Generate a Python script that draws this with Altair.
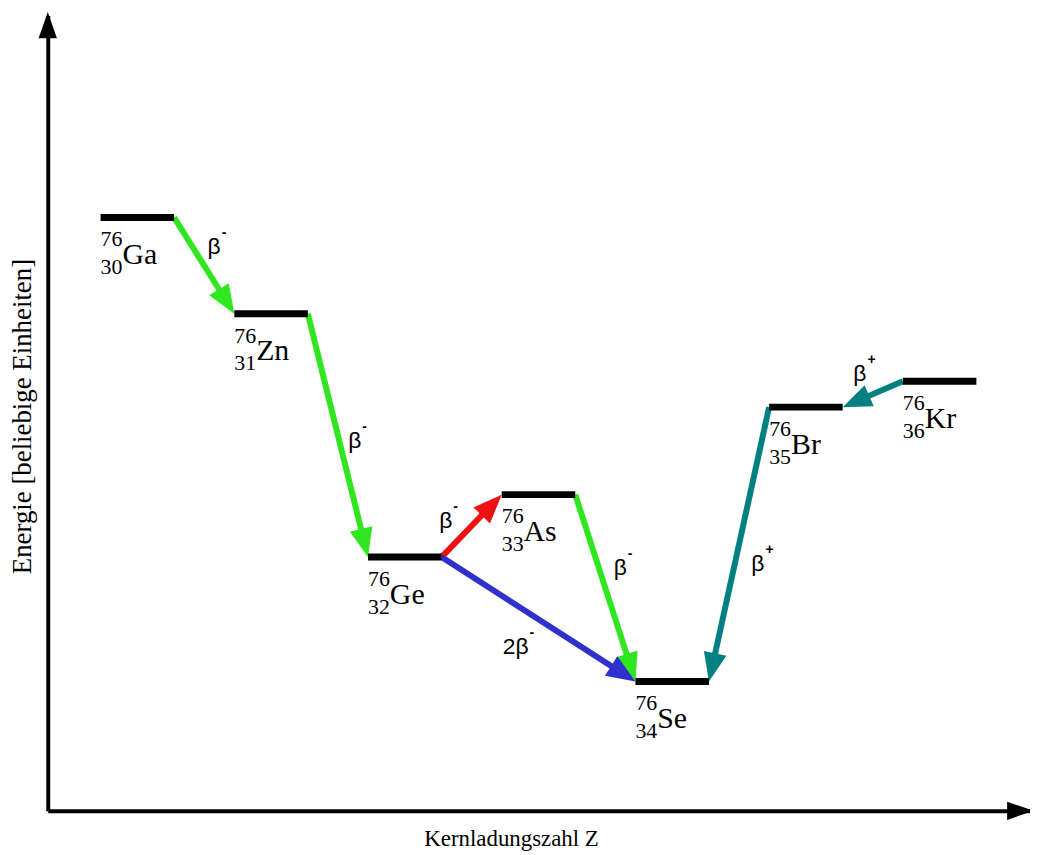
import math
import altair as alt
import pandas as pd

# ---------------- data ----------------
SYMBOLS = ["Ga", "Zn", "Ge", "As", "Se", "Br", "Kr"]
Z_VALUES = [30, 31, 32, 33, 34, 35, 36]
ENERGY = [74.6, 62.5, 31.9, 39.75, 16.25, 50.75, 54.0]   # arbitrary units
MASS_NUMBER = "76"

T_FROM = ["Ga", "Zn", "Ge", "As", "Ge", "Br", "Kr"]
T_TO = ["Zn", "Ge", "As", "Se", "Se", "Se", "Br"]
T_KIND = ["beta-", "beta-", "beta- (verboten)", "beta-", "2beta-", "beta+", "beta+"]
T_TEXT = ["β", "β", "β", "β", "2β", "β", "β"]
T_SUP = ["-", "-", "-", "-", "-", "+", "+"]

X_TITLE = "Kernladungszahl Z"
Y_TITLE = "Energie [beliebige Einheiten]"

# ---------------- layout / style ----------------
W, H = 988, 800
X_DOMAIN = [29.33, 36.676]
Y_DOMAIN = [0, 100]
HALF_WIDTH = 0.275          # half length of a level bar, in Z units
SERIF = "Liberation Serif"
SANS = "Liberation Sans"
KIND_DOMAIN = ["beta-", "beta- (verboten)", "2beta-", "beta+"]
KIND_RANGE = ["#30e61e", "#ee1111", "#3030cc", "#008080"]
LABEL_OFFSETS = [(10, -12), (17, 13), (-26, 2), (15, -13), (-23, 35), (19, 27), (-13, -13)]
HEAD_PATH = "M0,0 L-0.4,1 L0.4,1 Z"
HEAD_LEN = 29
AXIS_HEAD_PATH = "M0,-0.15 L-0.4,1 L0.4,1 Z"
AXIS_HEAD_LEN = 23

px_x = W / (X_DOMAIN[1] - X_DOMAIN[0])
px_y = H / (Y_DOMAIN[1] - Y_DOMAIN[0])

levels = pd.DataFrame({"sym": SYMBOLS, "Z": Z_VALUES, "E": ENERGY})
levels["xl"] = levels["Z"] - HALF_WIDTH
levels["xr"] = levels["Z"] + HALF_WIDTH
levels["mass"] = MASS_NUMBER
levels["zlab"] = levels["Z"].astype(str)
lev = {s: (z, e) for s, z, e in zip(SYMBOLS, Z_VALUES, ENERGY)}

rows = []
for f, t, k, txt, sup in zip(T_FROM, T_TO, T_KIND, T_TEXT, T_SUP):
    zf, ef = lev[f]
    zt, et = lev[t]
    if zt > zf:
        xs, xe = zf + HALF_WIDTH, zt - HALF_WIDTH
    else:
        xs, xe = zf - HALF_WIDTH, zt + HALF_WIDTH
    ys, ye = ef, et
    dxp = (xe - xs) * px_x
    dyp = -(ye - ys) * px_y
    L = math.hypot(dxp, dyp)
    ux, uy = dxp / L, dyp / L
    ang = math.degrees(math.atan2(ux, -uy)) % 360
    s = HEAD_LEN * 0.55
    rows.append({
        "kind": k, "text": txt, "sup": sup,
        "xs": xs, "ys": ys, "xe": xe, "ye": ye,
        "xl": xe - ux * s / px_x, "yl": ye + uy * s / px_y,
        "xm": (xs + xe) / 2, "ym": (ys + ye) / 2,
        "angle": ang,
    })
trans = pd.DataFrame(rows)

axis_heads = pd.DataFrame({
    "x": [X_DOMAIN[1], X_DOMAIN[0]],
    "y": [Y_DOMAIN[0], Y_DOMAIN[1]],
    "angle": [90, 0],
})

XS = alt.Scale(domain=X_DOMAIN, nice=False, zero=False)
YS = alt.Scale(domain=Y_DOMAIN, nice=False, zero=False)
XAXIS = alt.Axis(title=X_TITLE, labels=False, ticks=False, grid=False, domain=True,
                 domainColor="black", domainWidth=4, titleFont=SERIF, titleFontSize=23,
                 titleFontWeight="normal", titleColor="black", titleX=466, titleY=35,
                 titleAlign="center", titleBaseline="alphabetic")
YAXIS = alt.Axis(title=Y_TITLE, labels=False, ticks=False, grid=False, domain=True,
                 domainColor="black", domainWidth=4, titleFont=SERIF, titleFontSize=27,
                 titleFontWeight="normal", titleColor="black", titleAngle=270,
                 titleX=-17, titleY=403, titleAlign="center", titleBaseline="alphabetic")


def X(field):
    return alt.X(f"{field}:Q", scale=XS, axis=XAXIS)


def Y(field):
    return alt.Y(f"{field}:Q", scale=YS, axis=YAXIS)


COLOR = alt.Color("kind:N", scale=alt.Scale(domain=KIND_DOMAIN, range=KIND_RANGE), legend=None)

arrow_lines = alt.Chart(trans).mark_rule(strokeWidth=6).encode(
    x=X("xs"), y=Y("ys"), x2="xl:Q", y2="yl:Q", color=COLOR)

arrow_heads = alt.Chart(trans).mark_point(
    shape=HEAD_PATH, filled=True, size=(2 * HEAD_LEN) ** 2, opacity=1, strokeWidth=0
).encode(x=X("xe"), y=Y("ye"), angle=alt.Angle("angle:Q", scale=None), color=COLOR)

bars = alt.Chart(levels).mark_rule(strokeWidth=7, color="black").encode(
    x=X("xl"), x2="xr:Q", y=Y("E"))

sup_mass = alt.Chart(levels).mark_text(
    align="left", baseline="alphabetic", font=SERIF, fontSize=22, dx=0, dy=29, color="black"
).encode(x=X("xl"), y=Y("E"), text="mass:N")

sub_z = alt.Chart(levels).mark_text(
    align="left", baseline="alphabetic", font=SERIF, fontSize=22, dx=0, dy=57, color="black"
).encode(x=X("xl"), y=Y("E"), text="zlab:N")

sym = alt.Chart(levels).mark_text(
    align="left", baseline="alphabetic", font=SERIF, fontSize=30, dx=22, dy=47, color="black"
).encode(x=X("xl"), y=Y("E"), text="sym:N")

label_layers = []
for i, (dx, dy) in enumerate(LABEL_OFFSETS):
    sub = trans.iloc[[i]]
    half = 6.6 if len(T_TEXT[i]) == 1 else 13
    label_layers.append(alt.Chart(sub).mark_text(
        align="center", baseline="alphabetic", font=SANS, fontSize=23, dx=dx, dy=dy, color="black"
    ).encode(x=X("xm"), y=Y("ym"), text="text:N"))
    label_layers.append(alt.Chart(sub).mark_text(
        align="left", baseline="alphabetic", font=SANS, fontSize=14,
        dx=dx + half + 1, dy=dy - 17, color="black", fontWeight="bold"
    ).encode(x=X("xm"), y=Y("ym"), text="sup:N"))

ax_heads = alt.Chart(axis_heads).mark_point(
    shape=AXIS_HEAD_PATH, filled=True, size=(2 * AXIS_HEAD_LEN) ** 2, opacity=1,
    strokeWidth=0, color="black"
).encode(x=X("x"), y=Y("y"), angle=alt.Angle("angle:Q", scale=None))

chart = alt.layer(
    arrow_lines, arrow_heads, bars, sup_mass, sub_z, sym, *label_layers, ax_heads
).properties(
    width=W, height=H,
    autosize=alt.AutoSizeParams(type="none"),
    padding={"left": 40, "top": 5, "right": 0, "bottom": 42},
    background="white",
).configure_view(stroke=None)

chart.save("out.html", embed_options={"renderer": "svg", "actions": False})
